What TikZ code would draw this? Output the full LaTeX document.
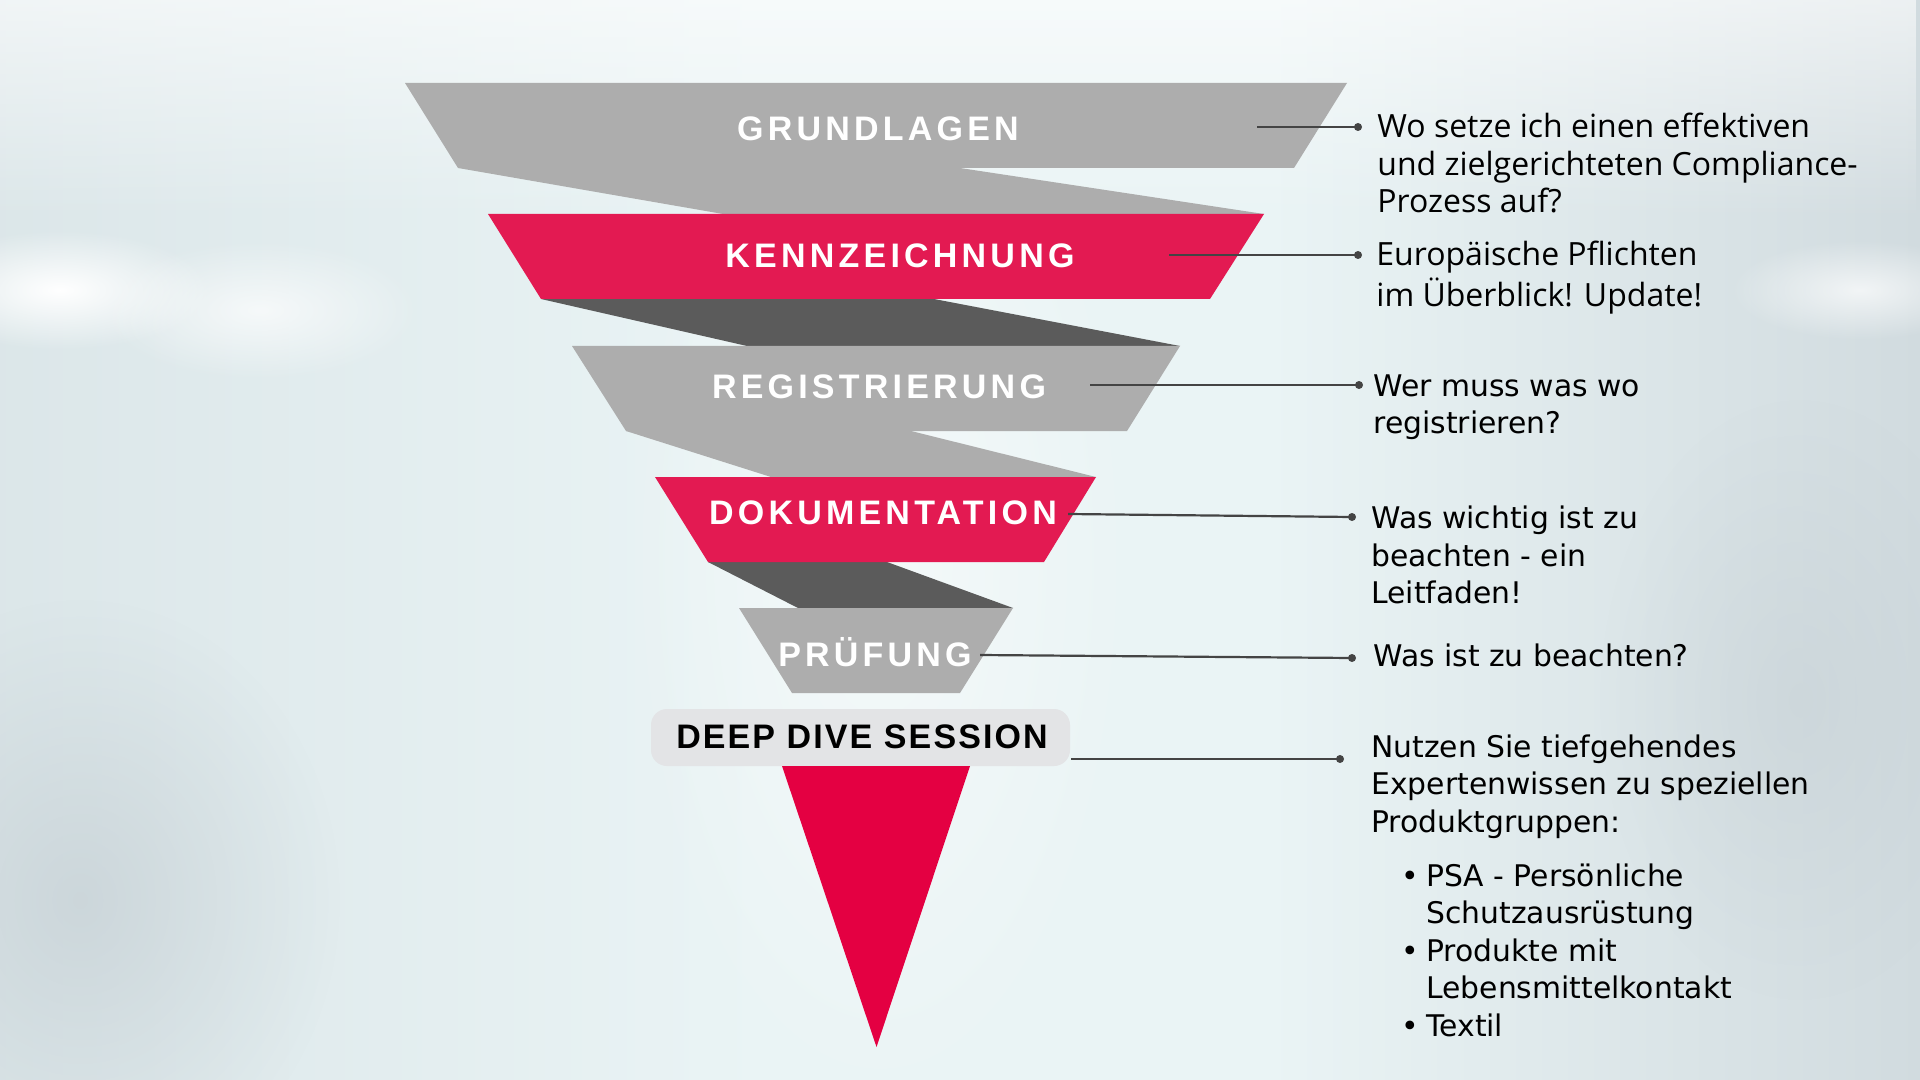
\documentclass[tikz,border=0pt]{standalone}
\usepackage{fontspec}
\setmainfont{Open Sans}
\newfontfamily\headfont{Liberation Sans}[LetterSpace=12.4]
\newfontfamily\deepfont{Liberation Sans}[LetterSpace=6.2]
\newfontfamily\askfont{Open Sans}
\newfontfamily\notefont{DejaVu Sans}
\usetikzlibrary{fadings}

\definecolor{funnelgray}{HTML}{ADADAD}
\definecolor{funnelred}{HTML}{E31A52}
\definecolor{tipred}{HTML}{E40042}
\definecolor{bandgray}{HTML}{5B5B5B}
\definecolor{boxgray}{HTML}{E3E4E6}
\definecolor{linegray}{HTML}{444444}
\definecolor{bgA}{HTML}{C9D4D8}
\definecolor{bgB}{HTML}{D8E3E6}
\definecolor{bgC}{HTML}{EAF4F5}
\definecolor{bgD}{HTML}{D1DBDF}
\definecolor{bgE}{HTML}{C5CFD4}
\pgfdeclarehorizontalshading{backdrop}{100bp}{color(0bp)=(bgA); color(20bp)=(bgB);
  color(45bp)=(bgC); color(58bp)=(bgC); color(75bp)=(bgD); color(100bp)=(bgE)}
\tikzfading[name=blob, inner color=transparent!0, outer color=transparent!100]

\begin{document}
\begin{tikzpicture}[x=0.5pt,y=-0.5pt,
    title/.style={text=white,inner sep=0pt,font=\headfont\bfseries\fontsize{17}{20}\selectfont},
    ask/.style={anchor=north west,align=left,inner sep=0pt,font=\askfont\fontsize{16}{18.75}\selectfont},
    note/.style={anchor=north west,align=left,inner sep=0pt,font=\notefont\fontsize{14.9}{18.75}\selectfont},
    link/.style={linegray,line width=1.1pt},
    dot/.style={circle,fill=linegray,inner sep=0pt,minimum size=4pt}]
% background
\useasboundingbox (0,0) rectangle (1920,1080);
\shade[shading=backdrop] (0,0) rectangle (1920,1080);
\fill[white,opacity=0.6,path fading=south] (0,0) rectangle (1920,220);
\fill[white,path fading=blob] (60,290) ellipse (150 and 60);
\fill[white,opacity=0.7,path fading=blob] (260,310) ellipse (160 and 70);
\fill[white,opacity=0.7,path fading=blob] (1860,290) ellipse (130 and 50);
\fill[bgE,opacity=0.7,path fading=blob] (80,900) ellipse (260 and 300);
\fill[bgE,opacity=0.5,path fading=blob] (1800,700) ellipse (200 and 300);
\fill[white,opacity=0.5,path fading=blob] (880,560) ellipse (260 and 560);

% bands
\fill[funnelgray] (458,168) -- (960,168) -- (1264,214) -- (723,214) -- cycle;
\fill[bandgray] (541,299) -- (934,299) -- (1180,346) -- (747,346) -- cycle;
\fill[funnelgray] (626,431) -- (911,431) -- (1096,477) -- (771,477) -- cycle;
\fill[bandgray] (708,562) -- (887,562) -- (1013,608) -- (798,608) -- cycle;

% steps
\fill[funnelgray] (405,83) -- (1347,83) -- (1294,168) -- (458,168) -- cycle;
\fill[funnelred] (488,214) -- (1264,214) -- (1210,299) -- (541,299) -- cycle;
\fill[funnelgray] (572,346) -- (1180,346) -- (1127,431) -- (626,431) -- cycle;
\fill[funnelred] (655,477) -- (1096,477) -- (1044,562) -- (708,562) -- cycle;
\fill[funnelgray] (739,608) -- (1013,608) -- (960,693) -- (792,693) -- cycle;
\fill[boxgray,rounded corners=8pt] (651,709) rectangle (1070,766);
\fill[tipred] (782,766) -- (970,766) -- (876.5,1047) -- cycle;

\node[title] (grund) at (878,128.6) {GRUNDLAGEN};
\node[title] (kenn) at (900,256) {KENNZEICHNUNG};
\node[title] (regi) at (879,387) {REGISTRIERUNG};
\node[title] (doku) at (883,513) {DOKUMENTATION};
\node[title] (pruef) at (875,652.6) {PRÜFUNG};
\node[title,text=black,font=\deepfont\bfseries\fontsize{17}{20}\selectfont] (deep) at (862,737) {DEEP DIVE SESSION};

% connectors
\coordinate (grund-in) at (1257,127);
\coordinate (kenn-in) at (1169,255);
\coordinate (regi-in) at (1090,385);
\coordinate (doku-in) at (1068,514);
\coordinate (pruef-in) at (980,655);
\coordinate (deep-in) at (1071,759);
\node[dot] (grund-dot) at (1358,127) {};
\node[dot] (kenn-dot) at (1358,255) {};
\node[dot] (regi-dot) at (1359,385) {};
\node[dot] (doku-dot) at (1352,517) {};
\node[dot] (pruef-dot) at (1352,658) {};
\node[dot] (deep-dot) at (1340,759) {};
\foreach \s in {grund,kenn,regi,doku,pruef,deep}
  \draw[link] (\s-in) -- (\s-dot.center);

% texts
\node[ask] (grund-info) at (1377,111) {\strut Wo setze ich einen effektiven\\und zielgerichteten Compliance-\\Prozess auf?};
\node[ask] (kenn-info) at (1376,238.5) {\strut Europäische Pflichten\\im Überblick! Update!};
\node[note] (regi-info) at (1373,369.5) {\strut Wer muss was wo\\registrieren?};
\node[note] (doku-info) at (1371,502) {\strut Was wichtig ist zu\\beachten - ein\\Leitfaden!};
\node[note] (pruef-info) at (1373,640) {\strut Was ist zu beachten?};
\node[note] (deep-info) at (1371,730.5) {\strut Nutzen Sie tiefgehendes\\Expertenwissen zu speziellen\\Produktgruppen:\\[8.25pt]
  \hspace*{15pt}\makebox[12.5pt][l]{\textbullet}PSA - Persönliche\\
  \hspace*{27.5pt}Schutzausrüstung\\
  \hspace*{15pt}\makebox[12.5pt][l]{\textbullet}Produkte mit\\
  \hspace*{27.5pt}Lebensmittelkontakt\\
  \hspace*{15pt}\makebox[12.5pt][l]{\textbullet}Textil};
\end{tikzpicture}
\end{document}
